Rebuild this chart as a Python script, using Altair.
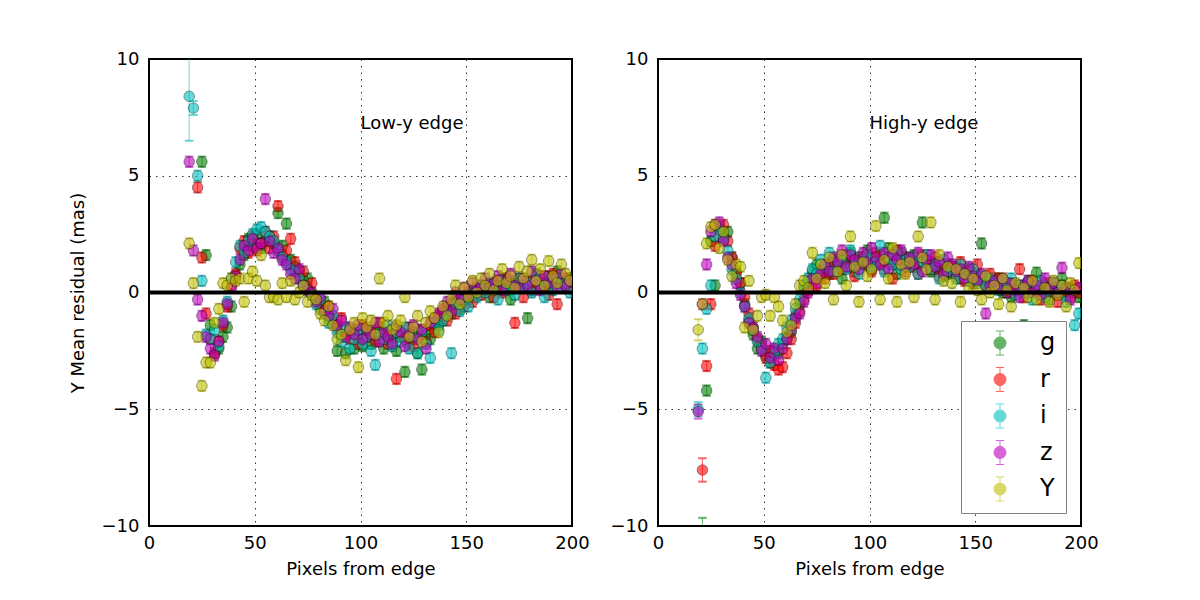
import altair as alt
import pandas as pd

BANDS = ["g", "r", "i", "z", "Y"]
BAND_COLORS = ["#008000", "#ff0000", "#00bfbf", "#bf00bf", "#bfbf00"]
X_START = 19   # first bin centre (pixels from edge)
X_STEP = 2     # bin width

# ---- Low-y edge (left panel), one value per bin, None = no point ----
LOW_G = [None, None, None, 5.6, 1.6, -1.4, -2.6, -2.4, -1.9, -1.5,
         -0.6, 0.7, 1.2, 1.6, 2.3, 2.0, 2.5, 1.9, 2.2, 2.4,
         2.1, 3.4, 2.0, 2.95, 1.4, 1.1, 0.9, 0.5, 0.6, -0.1,
         -0.3, -0.7, -0.4, -1.1, -1.3, -2.5, -1.9, -2.6, -1.7, -2.4,
         -1.9, -2.3, -1.6, -2.2, -2.0, -1.5, -2.4, -1.8, -2.1, -2.5,
         -1.9, -3.4, -2.2, -1.7, -2.6, -3.3, -1.8, -2.0, -1.5, -1.4,
         -1.1, -0.6, -0.9, -0.4, -0.7, -0.2, -0.3, 0.1, -0.1, 0.2,
         0.3, -0.2, 0.4, 0.1, 0.6, 0.2, -0.3, 0.5, 0.4, 0.3,
         -1.1, 0.1, 0.8, 0.4, 0.2, 0.7, 0.3, 0.9, 0.5, 0.3,
         0.6]
LOW_R = [None, None, 4.5, 1.5, -0.9, -2.0, -2.6, -2.1, -1.4, -0.6,
         0.3, 0.8, 1.9, 2.2, 1.7, 2.4, 1.8, 2.1, 2.6, 1.9,
         2.4, 3.7, 1.6, 1.8, 2.3, 1.3, 0.7, 0.9, 0.2, 0.4,
         -0.2, -0.5, -0.8, -0.6, -1.2, -1.5, -1.1, -1.8, -2.0, -1.6,
         -2.2, -1.4, -1.9, -1.7, -2.1, -1.3, -1.8, -2.2, -1.6, -3.7,
         -1.8, -2.0, -1.5, -2.3, -1.9, -1.6, -2.1, -1.4, -1.7, -1.0,
         -0.8, -1.2, -0.5, -0.9, -0.3, -0.6, 0.0, -0.4, 0.2, -0.1,
         0.1, 0.3, -0.2, 0.5, 0.0, 0.6, 0.4, -1.3, 0.6, -0.2,
         0.5, 0.1, 0.3, 0.7, 0.2, -0.1, 0.8, -0.5, 0.4, 0.6,
         0.2]
LOW_I = [8.4, 7.9, 5.0, 0.5, -1.8, -2.0, -1.6, -2.3, -1.2, -0.4,
         0.6, 1.3, 2.0, 1.7, 2.2, 2.5, 2.7, 2.8, 2.6, 2.4,
         2.2, 1.8, 1.5, 1.3, 1.0, 0.9, 0.6, 0.3, 0.1, -0.1,
         -0.5, -0.3, -0.9, -1.3, -1.0, -1.7, -2.1, -1.5, -2.4, -2.0,
         -1.6, -2.2, -1.9, -2.5, -3.1, -1.8, -2.0, -1.4, -2.3, -1.7,
         -2.1, -1.5, -2.4, -1.9, -2.6, -1.7, -2.2, -2.8, -1.3, -1.6,
         -1.2, -0.9, -2.6, -0.5, -0.8, -0.3, -0.6, 0.1, -0.2, 0.3,
         0.0, 0.4, 0.2, -0.3, 0.5, 0.1, 0.3, -0.1, 0.6, 0.2,
         0.4, 0.0, 0.7, 0.3, -0.2, 0.5, 0.1, 0.6, 0.2, 0.4,
         0.0]
LOW_Z = [5.6, 1.8, -0.3, -1.0, -1.9, -2.4, -2.7, -2.1, -1.3, -0.5,
         0.2, 0.7, 1.4, 2.0, 1.8, 2.3, 1.9, 2.1, 4.0, 2.2,
         1.7, 1.9, 1.4, 1.2, 0.8, 0.6, 1.0, 0.3, 0.1, 0.0,
         -0.4, -0.2, -0.8, -1.0, -0.7, -1.4, -1.2, -1.9, -1.5, -1.8,
         -1.4, -2.0, -1.6, -1.8, -1.3, -2.1, -1.7, -1.9, -2.2, -1.5,
         -1.7, -2.3, -1.8, -1.4, -2.0, -1.6, -2.4, -1.3, -1.1, -0.9,
         -0.7, -0.4, -0.8, 0.0, -0.3, 0.2, -0.1, 0.4, 0.1, 0.3,
         0.6, 0.2, 0.4, 0.7, 0.1, 0.5, 0.8, 0.3, 0.2, 0.6,
         0.3, 0.9, 0.5, 0.1, 0.7, 0.4, 0.6, 0.2, 0.8, 0.3,
         0.5]
LOW_Y = [2.1, 0.4, -1.9, -4.0, -3.0, -3.0, -1.3, -0.7, 0.4, 0.3,
         0.6, 0.5, 0.6, -0.4, 0.6, 0.9, 0.5, 1.6, 0.3, -0.2,
         -0.2, -0.3, 0.4, -0.2, 0.5, -0.3, 0.0, 0.3, -0.4, -0.1,
         -0.3, -0.9, -1.2, -0.6, -1.4, -2.0, -1.8, -2.9, -1.6, -1.3,
         -3.2, -1.1, -1.5, -1.2, -1.8, 0.6, -1.3, -1.0, -1.6, -1.4,
         -1.2, -0.2, -1.9, -1.5, -1.0, -2.1, -1.3, -0.8, -1.1, -1.7,
         -0.6, -1.0, -0.3, 0.3, -0.5, 0.2, -0.2, 0.5, 0.0, 0.6,
         0.3, 0.8, 0.1, 0.5, 1.0, 0.4, 0.7, 0.2, 1.1, 0.6,
         0.9, 1.4, 0.5, 1.0, 0.3, 1.35, 0.7, 0.4, 1.2, 0.8,
         0.5]

# ---- High-y edge (right panel) ----
HIGH_G = [None, -10.6, -4.2, 2.2, 0.3, 2.8, 2.4, 2.6, 1.5, 0.9,
          0.4, -0.5, -1.2, -1.8, -2.4, -2.1, -2.7, -3.0, -2.5, -2.6,
          -2.2, -1.9, -1.7, -1.0, -0.5, 0.2, 0.5, 0.9, 1.2, 0.7,
          1.0, 0.8, 1.4, 1.1, 0.6, 1.3, 1.7, 0.9, 1.5, 1.2,
          1.8, 1.0, 1.4, 1.6, 3.2, 1.9, 1.3, 0.8, 1.7, 1.5,
          1.2, 1.6, 1.1, 3.0, 1.4, 0.9, 1.3, 1.0, 0.7, 1.2,
          0.8, 1.1, 0.6, 0.9, 1.0, 0.4, 0.7, 2.1, 0.3, 0.5,
          0.2, 0.6, 0.0, 0.4, -0.2, 0.3, 0.1, -1.4, 0.5, 0.2,
          0.85, 0.0, 0.3, -0.3, 0.4, 0.1, 0.6, -0.1, 0.2, 0.0,
          -0.2]
HIGH_R = [None, -7.6, -3.15, -0.5, 2.0, 2.4, 2.9, 2.2, 1.5, 0.8,
          0.4, -0.2, -0.9, -1.5, -2.0, -2.3, -2.8, -2.5, -3.1, -3.3,
          -3.2, -2.6, -2.0, -1.3, -0.8, -0.3, 0.1, 0.5, 0.3, 0.9,
          0.6, 1.2, 0.8, 1.4, 1.0, 1.6, 1.1, 0.7, 1.3, 1.5,
          1.2, 0.9, 1.7, 1.3, 1.0, 1.5, 0.6, 1.8, 1.2, 0.9,
          1.4, 1.1, 0.8, 1.6, 1.3, 1.0, 1.5, 0.7, 1.2, 0.9,
          1.1, 0.7, 1.3, 0.5, 0.9, 0.4, 1.2, 0.6, 0.2, 0.8,
          0.3, 0.6, 0.1, 0.4, 0.0, 0.3, 1.0, -0.2, 0.2, 0.5,
          0.1, -0.3, 0.4, 0.0, 0.2, -0.4, 0.3, 0.1, -0.2, 0.3,
          0.0]
HIGH_I = [-5.0, -2.4, -0.7, 0.3, 2.4, 2.7, 2.3, 1.8, 1.0, 0.6,
          0.0, -0.6, -1.1, -1.6, -2.1, -2.4, -3.65, -3.0, -2.6, -2.2,
          -2.0, -1.5, -1.2, -0.7, -0.3, 0.3, 0.6, 1.0, 0.8, 1.4,
          1.1, 1.7, 0.9, 1.3, 1.5, 1.0, 1.8, 1.2, 0.8, 1.4,
          1.6, 1.1, 1.3, 2.0, 0.9, 1.5, 1.2, 1.7, 1.0, 1.4,
          1.1, 1.5, 0.8, 1.3, 1.6, 1.0, 1.2, 0.6, 1.4, 0.9,
          1.0, 0.6, 1.2, 0.8, 0.5, 1.0, 0.4, 0.7, 0.3, 0.6,
          0.4, 0.1, 0.5, 0.2, 0.6, -0.1, 0.3, 0.0, 0.4, -0.3,
          0.2, 0.5, -0.2, 0.1, 0.4, 0.0, 0.3, -0.4, 0.1, -1.4,
          -0.9]
HIGH_Z = [-5.1, -0.5, 1.2, 2.6, 2.9, 3.0, 2.2, 1.5, 1.2, 0.4,
          -0.1, -0.6, -1.3, -1.5, -1.9, -2.5, -2.2, -2.8, -2.4, -2.9,
          -2.4, -2.0, -1.6, -1.1, -0.9, -0.4, 0.0, 0.6, 0.4, 0.8,
          1.2, 0.9, 1.5, 1.3, 1.8, 1.1, 1.6, 1.4, 1.0, 1.7,
          1.3, 1.9, 1.5, 1.2, 1.7, 1.0, 1.6, 1.4, 1.8, 1.1,
          1.5, 1.2, 1.7, 0.9, 1.4, 1.6, 1.1, 1.3, 0.8, 1.5,
          1.2, 0.9, 1.0, 0.6, 1.1, 0.7, 0.5, 0.8, -0.9, 0.3,
          0.5, 0.2, 0.6, 0.0, 0.4, 0.1, -0.2, 0.3, 0.5, 0.0,
          0.3, -0.1, 0.6, 0.2, 0.4, 0.0, 1.06, 0.2, -0.3, 0.1,
          0.2]
HIGH_Y = [-1.6, -0.5, 2.1, 2.8, 2.9, 1.9, 2.6, 1.4, 0.7, 1.2,
          1.1, -1.5, 0.5, -1.6, -1.0, -0.2, -0.1, -1.0, -0.2, -0.6,
          -1.2, -1.7, -1.4, -0.5, 0.3, 0.5, 0.2, 1.7, 0.6, 1.2,
          0.4, 1.5, -0.3, 0.9, 1.6, 0.3, 2.4, 1.1, -0.4, 1.3,
          0.7, 1.0, 2.85, -0.3, 1.4, 0.6, 1.9, -0.4, 1.2, 0.8,
          1.3, -0.2, 2.4, 1.5, 1.0, 3.0, -0.3, 1.6, 0.5, 1.1,
          0.4, 1.0, -0.4, 0.8, 0.2, 0.6, 0.1, -0.3, 0.7, 0.0,
          0.3, -0.5, 0.6, 0.1, -0.6, 0.4, -1.5, 0.2, -0.2, 0.5,
          -0.3, -1.58, 0.2, -0.4, 0.5, -0.1, 0.3, -0.6, 0.4, 0.1,
          1.26]

ERR_DEFAULT = 0.22
# (panel, band, bin index) -> 1-sigma error where it is visibly larger
ERR_LARGE = {
    ("low", "i", 0): 1.9,
    ("low", "i", 1): 0.3,
    ("high", "Y", 0): 0.45,
    ("high", "r", 1): 0.5,
    ("high", "i", 0): 0.3,
    ("high", "z", 0): 0.3,
    ("high", "g", 1): 0.95,
}

PANELS = {
    "low": dict(zip(BANDS, [LOW_G, LOW_R, LOW_I, LOW_Z, LOW_Y])),
    "high": dict(zip(BANDS, [HIGH_G, HIGH_R, HIGH_I, HIGH_Z, HIGH_Y])),
}
LABELS = {"low": "Low-y edge", "high": "High-y edge"}

FONT = "DejaVu Sans"
# legend symbol: marker circle with an error bar and caps through it
LEGEND_SYMBOL = ("M -1 0 A 1 1 0 1 0 1 0 A 1 1 0 1 0 -1 0 Z "
                 "M 0 -2 L 0 2 M -0.7 -2 L 0.7 -2 M -0.7 2 L 0.7 2")


def build_df(panel):
    rows = []
    for b in BANDS:
        for k, v in enumerate(PANELS[panel][b]):
            if v is None:
                continue
            e = ERR_LARGE.get((panel, b, k), ERR_DEFAULT)
            rows.append({"band": b, "x": X_START + X_STEP * k, "y": v,
                         "lo": v - e, "hi": v + e})
    return pd.DataFrame(rows)


color_scale = alt.Scale(domain=BANDS, range=BAND_COLORS)
xs = alt.Scale(domain=[0, 200], nice=False, zero=False, padding=0)
ys = alt.Scale(domain=[-10, 10], nice=False, zero=False, padding=0)


def make_panel(panel, show_legend, show_ytitle):
    df = build_df(panel)
    base = alt.Chart(df)
    xaxis = alt.Axis(values=[0, 50, 100, 150, 200], title="Pixels from edge",
                     labelPadding=8, titlePadding=8, labelFlush=False)
    yaxis = alt.Axis(values=[-10, -5, 0, 5, 10],
                     title="Y Mean residual (mas)" if show_ytitle else None,
                     labelPadding=10, titlePadding=14, labelFlush=False)
    if show_legend:
        leg = alt.Legend(
            title=None, orient="none", legendX=303, legendY=262,
            labelFontSize=24, labelFont=FONT, symbolSize=144,
            symbolType=LEGEND_SYMBOL,
            symbolStrokeWidth=1, symbolOpacity=0.6,
            rowPadding=8.5, padding=10, symbolOffset=17, labelOffset=28,
            strokeColor="#808080", fillColor="white",
        )
    else:
        leg = None
    err = base.mark_rule(clip=True, strokeWidth=1, opacity=0.6).encode(
        x=alt.X("x:Q", scale=xs, axis=xaxis),
        y=alt.Y("lo:Q", scale=ys, axis=yaxis),
        y2="hi:Q",
        stroke=alt.Stroke("band:N", scale=color_scale, legend=leg),
    )
    caps = base.transform_fold(["lo", "hi"], as_=["end", "yc"]).mark_tick(
        orient="horizontal", size=8, thickness=1, clip=True, opacity=0.6
    ).encode(
        x=alt.X("x:Q", scale=xs),
        y=alt.Y("yc:Q", scale=ys),
        stroke=alt.Stroke("band:N", scale=color_scale, legend=leg),
    )
    pts = base.mark_point(
        filled=True, shape="circle", size=113, fillOpacity=0.6,
        stroke="black", strokeWidth=0.6, strokeOpacity=0.6, clip=True
    ).encode(
        x=alt.X("x:Q", scale=xs),
        y=alt.Y("y:Q", scale=ys),
        fill=alt.Fill("band:N", scale=color_scale, legend=leg),
    )
    zero = alt.Chart(pd.DataFrame({"y0": [0]})).mark_rule(
        color="black", strokeWidth=4
    ).encode(y=alt.Y("y0:Q", scale=ys))
    txt = alt.Chart(pd.DataFrame({"tx": [100], "ty": [7.2], "t": [LABELS[panel]]})).mark_text(
        align="left", baseline="middle", fontSize=18, font=FONT, color="black"
    ).encode(x=alt.X("tx:Q", scale=xs), y=alt.Y("ty:Q", scale=ys), text="t:N")
    return alt.layer(err, caps, pts, zero, txt).properties(width=423, height=467)


left = make_panel("low", False, True)
right = make_panel("high", True, False)

chart = alt.hconcat(left, right, spacing=18).resolve_legend(
    fill="independent", stroke="independent"
).properties(
    padding={"left": 68, "top": 49, "right": 0, "bottom": 0}
).configure_view(
    stroke="black", strokeWidth=2
).configure_axis(
    labelFont=FONT, titleFont=FONT, labelFontSize=18, titleFontSize=18,
    titleFontWeight="normal", labelColor="black", titleColor="black",
    domain=False, ticks=False,
    gridColor="black", gridDash=[1.5, 5], gridWidth=0.9, gridOpacity=0.9,
)

chart.save("out.html", embed_options={"renderer": "svg", "actions": False})
